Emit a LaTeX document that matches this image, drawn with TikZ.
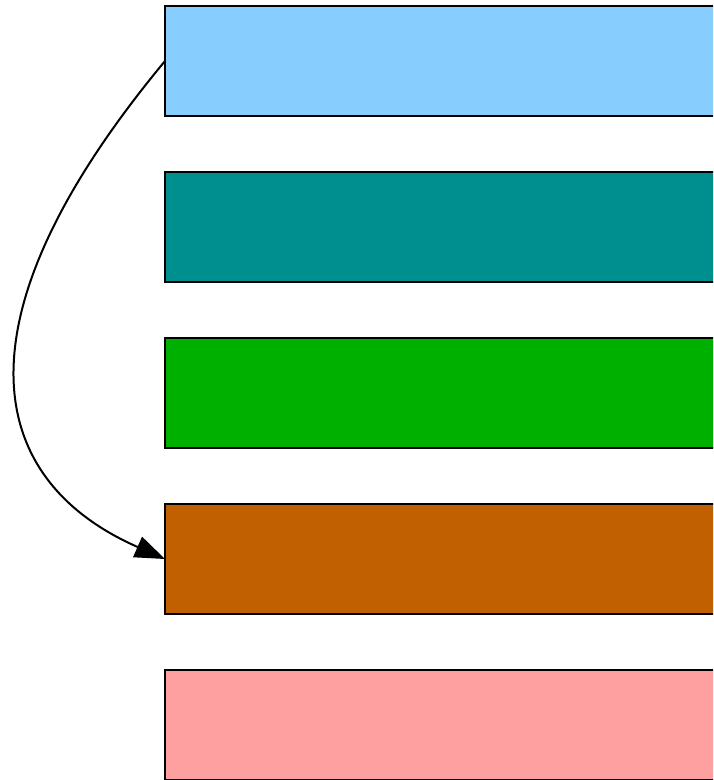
\documentclass[tikz,border=0pt]{standalone}
\usetikzlibrary{arrows.meta}
\definecolor{cA}{HTML}{87CEFF}
\definecolor{cB}{HTML}{008F8F}
\definecolor{cC}{HTML}{00B000}
\definecolor{cD}{HTML}{C06000}
\definecolor{cE}{HTML}{FFA0A0}
\begin{document}
\begin{tikzpicture}[x=1pt,y=-1pt,
  bar/.style={draw=black,line width=2pt,rectangle,minimum width=640pt,minimum height=110pt,anchor=north west,inner sep=0pt,outer sep=0pt},
  link/.style={draw=black,line width=2pt,-{Triangle[length=30pt,width=22pt]}}]
\useasboundingbox (0,0) rectangle (713,780);
\clip (0,0) rectangle (713,780);
\node[bar,fill=cA] (r1) at (165,6) {};
\node[bar,fill=cB] (r2) at (165,172) {};
\node[bar,fill=cC] (r3) at (165,338) {};
\node[bar,fill=cD] (r4) at (165,504) {};
\node[bar,fill=cE] (r5) at (165,670) {};
\draw[link] (r1.west) .. controls (-50,320) and (-15,480) .. (r4.west);
\end{tikzpicture}
\end{document}
